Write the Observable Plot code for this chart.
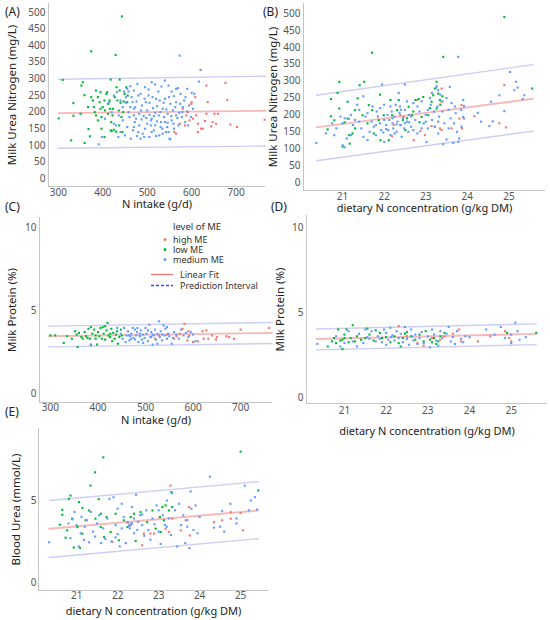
<!DOCTYPE html>
<html>
<head>
<meta charset="utf-8">
<script src="https://cdn.jsdelivr.net/npm/d3@7"></script>
<script src="https://cdn.jsdelivr.net/npm/@observablehq/plot@0.6"></script>
<style>
  html, body { margin: 0; padding: 0; background: #fff; }
  #wrap { position: relative; width: 550px; height: 620px; background: #fff; overflow: hidden; }
</style>
</head>
<body>
<div id="wrap"></div>
<script>
// ---------- categories / colours ----------
const groups = ["high ME", "low ME", "medium ME"];
const groupColors = ["#F8766D", "#00BA38", "#619CFF"];
const legendTitle = "level of ME";
const fitLabels = ["Linear Fit", "Prediction Interval"];
const panelLabels = ["(A)", "(B)", "(C)", "(D)", "(E)"];

// ---------- tick labels ----------
const ticksMUN = [0, 50, 100, 150, 200, 250, 300, 350, 400, 450, 500];
const ticksIntake = [300, 400, 500, 600, 700];
const ticksConc = [21, 22, 23, 24, 25];
const ticksProtein = [0, 5, 10];
const ticksUrea = [0, 5];

// ---------- Panel A: N intake vs MUN ----------
const aHigh = [[676,288],[680,237],[633,280],[636,230],[580,210],[603,180],[588,190],[573,165],[614,165],[621,150],[614,140],[651,195],[647,170],[644,157],[687,163],[702,155],[764,177],[561,140],[565,135],[591,200],[599,225],[630,173],[659,195],[633,195],[608,245],[585,160],[595,175],[610,190],[625,150],[655,165],[600,230]];
const aLow = [[443,488],[374,383],[429,372],[310,297],[438,298],[355,290],[301,181],[329,115],[359,107],[334,227],[334,189],[350,195],[359,251],[368,149],[371,127],[374,245],[378,235],[382,200],[385,265],[389,245],[393,230],[397,185],[400,215],[404,125],[408,255],[412,195],[415,235],[418,145],[419,170],[423,210],[427,245],[431,275],[433,235],[436,205],[438,265],[442,185],[444,140],[449,255],[453,275],[389,175],[397,150],[404,235],[418,298],[367,215],[352,280],[420,143],[425,147],[430,141],[412,225],[395,210],[440,228],[447,232],[456,250],[385,190],[405,205],[410,260],[416,210],[422,190],[437,160],[446,200],[455,230],[395,260],[380,215]];
const aMed = [[391,103],[573,370],[620,327],[616,292],[606,255],[569,272],[448,262],[455,270],[462,278],[470,265],[478,285],[485,255],[495,275],[503,268],[510,290],[518,283],[525,262],[532,277],[540,295],[548,280],[555,262],[565,270],[575,255],[590,270],[600,258],[440,235],[445,215],[452,228],[458,200],[465,245],[470,210],[476,232],[482,195],[488,220],[494,240],[500,205],[505,228],[512,245],[518,198],[522,218],[528,235],[535,210],[540,240],[546,195],[552,225],[558,205],[565,230],[572,198],[580,215],[590,202],[603,210],[560,248],[470,190],[505,192],[430,160],[435,125],[440,140],[445,175],[450,130],[455,155],[460,185],[463,120],[468,145],[472,170],[477,128],[482,160],[487,178],[490,135],[495,150],[500,165],[505,125],[510,180],[515,145],[518,160],[522,172],[527,130],[530,155],[534,150],[538,185],[542,140],[546,168],[550,120],[555,175],[560,150],[565,190],[570,160],[578,185],[585,170],[592,160],[475,180],[485,120],[515,188],[545,155],[398,125],[405,180],[420,200],[425,165],[415,230],[425,250],[432,260],[436,190],[552,118],[498,182],[530,200],[462,215],[583,235],[510,140],[540,170],[452,245],[458,262],[467,230],[473,215],[480,250],[486,205],[492,188],[497,230],[503,250],[508,175],[513,212],[520,240],[526,190],[531,170],[537,228],[543,208],[549,245],[554,188],[559,165],[563,215],[568,182],[574,225],[579,200],[586,245],[594,220],[598,185],[470,155],[480,140],[493,125],[508,160],[520,128],[535,135],[548,140]];
const aFit = [[300,197],[766,204]];
const aUpper = [[300,299],[766,308]];
const aLower = [[300,91],[766,98]];

// ---------- Panel B: dietary N concentration vs MUN ----------
const bHigh = [[24.89,288],[24.77,175],[24.93,163],[24.17,196],[23.86,229],[23.38,278],[23.14,167],[23.22,165],[23.34,160],[23.38,155],[23.62,160],[23.81,189],[23.87,160],[22.98,140],[22.87,152],[22.71,125],[22.79,244],[22.19,137],[22.23,170],[22.39,199],[22.47,194],[23.38,239]];
const bLow = [[24.89,490],[21.71,384],[20.92,298],[21.52,298],[21.41,288],[25.56,278],[23.42,372],[20.88,265],[20.72,247],[20.72,196],[20.64,157],[20.80,184],[20.92,219],[21.0,106],[21.12,189],[21.12,239],[21.16,140],[21.17,115],[21.24,145],[21.30,214],[21.36,249],[21.48,199],[21.60,175],[21.63,229],[21.71,214],[21.75,145],[21.87,184],[21.91,125],[21.99,199],[22.15,244],[22.19,199],[22.31,214],[22.35,244],[22.39,170],[22.51,155],[22.59,224],[22.67,199],[22.75,244],[22.83,247],[22.90,194],[22.94,253],[23.06,199],[23.14,239],[23.18,258],[23.22,278],[23.26,298],[23.30,263],[23.34,244],[23.26,219],[22.11,125],[21.05,178],[22.45,185],[22.7,210],[22.55,190],[23.1,220],[23.4,255],[21.3,160],[21.9,260],[22.85,178],[23.35,230]];
const bMed = [[20.37,117],[20.8,140],[20.85,160],[20.95,195],[21.0,175],[21.05,190],[21.1,130],[21.0,110],[21.05,104],[21.15,188],[21.2,140],[21.25,170],[21.3,185],[21.35,230],[21.4,215],[21.45,160],[21.5,255],[21.55,195],[21.6,125],[21.65,150],[21.7,180],[21.72,225],[21.75,165],[21.8,140],[21.82,210],[21.85,195],[21.9,175],[21.93,155],[21.95,290],[22.0,230],[22.0,120],[22.05,170],[22.08,200],[22.1,155],[22.12,185],[22.15,140],[22.18,210],[22.2,175],[22.22,160],[22.25,195],[22.28,230],[22.3,150],[22.32,180],[22.35,265],[22.37,205],[22.4,170],[22.42,135],[22.45,190],[22.48,160],[22.5,290],[22.5,215],[22.55,180],[22.58,150],[22.6,200],[22.65,165],[22.7,235],[22.75,185],[22.8,145],[22.85,210],[22.9,240],[22.95,175],[23.0,200],[23.02,120],[23.05,160],[23.1,250],[23.15,185],[23.2,210],[23.22,165],[23.25,280],[23.28,225],[23.3,145],[23.32,195],[23.35,260],[23.4,240],[23.42,113],[23.45,175],[23.5,127],[23.55,215],[23.58,283],[23.6,190],[23.66,117],[23.7,225],[23.75,150],[23.78,120],[23.78,372],[23.8,130],[23.86,165],[23.9,244],[23.92,189],[23.92,226],[23.9,194],[24.25,206],[24.33,180],[24.53,167],[24.57,239],[24.61,181],[24.77,258],[24.89,211],[25.03,327],[25.13,273],[25.17,298],[25.21,281],[25.33,247],[25.37,258],[23.3,273],[23.26,285],[22.3,172],[22.05,158],[22.6,178],[23.12,230],[21.2,200],[21.4,180],[21.6,205],[21.8,170],[21.9,220],[22.0,185],[22.15,225],[22.25,145],[22.4,215],[22.5,175],[22.55,240],[22.65,195],[22.7,155],[22.8,225],[22.9,160],[23.0,180],[23.05,215],[23.15,265],[23.3,180],[23.4,210],[23.5,250],[23.55,160],[23.62,235],[23.68,175],[23.72,205],[23.85,215],[22.38,225],[22.2,190],[21.98,148],[21.5,135],[20.6,145],[20.75,175]];
const bFit = [[20.37,163],[25.58,248]];
const bUpper = [[20.37,258],[25.58,349]];
const bLower = [[20.37,64],[25.58,152]];

// ---------- Panel C: N intake vs milk protein ----------
const cHigh = [[520,3.3],[528,3.5],[545,3.55],[560,3.3],[572,3.6],[578,3.9],[582,4.2],[588,3.2],[592,3.5],[600,3.1],[610,3.15],[620,3.75],[622,3.3],[628,3.8],[632,3.3],[640,3.5],[648,3.25],[650,3.4],[670,3.45],[676,3.4],[686,3.3],[700,3.85],[760,3.95],[590,3.75],[565,3.45]];
const cLow = [[300,3.5],[310,3.5],[328,3.05],[335,3.45],[345,3.3],[352,3.75],[357,2.8],[360,3.65],[365,3.4],[368,3.3],[372,3.7],[375,3.45],[380,3.9],[383,3.3],[385,4.0],[388,3.6],[392,3.85],[395,3.3],[398,2.95],[400,3.7],[403,3.45],[405,3.95],[408,3.3],[410,4.0],[412,3.6],[415,3.25],[418,3.8],[420,4.25],[422,3.5],[425,3.4],[428,3.9],[430,3.15],[432,3.65],[435,3.3],[438,3.55],[440,3.75],[442,3.0],[445,3.4],[448,3.85],[450,3.5],[385,2.95],[395,3.5],[415,4.05],[355,3.55],[378,3.35],[426,3.6]];
const cMed = [[385,2.9],[440,3.95],[448,3.6],[452,3.3],[455,3.95],[458,3.1],[460,3.5],[463,3.75],[466,3.2],[470,3.6],[473,3.95],[475,3.35],[478,3.85],[480,3.5],[482,3.7],[485,3.1],[488,3.45],[490,3.8],[492,3.25],[495,3.55],[498,3.35],[500,3.95],[502,3.6],[505,3.15],[508,4.15],[510,3.4],[512,3.7],[515,2.95],[518,3.5],[520,3.85],[522,3.25],[525,3.6],[528,4.35],[530,3.4],[532,3.75],[535,3.2],[538,4.1],[540,3.5],[542,3.9],[545,3.3],[548,3.6],[550,3.45],[555,3.0],[560,3.7],[565,3.55],[570,3.3],[575,3.85],[580,3.5],[585,3.65],[590,3.4],[595,3.7],[600,3.55],[605,3.15],[478,3.25],[468,3.45],[505,3.8],[515,3.55],[525,3.0],[495,3.05],[483,3.95],[465,3.5],[535,3.55],[545,4.0],[558,3.35],[470,3.3],[512,3.4],[488,3.6]];
const cFit = [[296,3.45],[766,3.65]];
const cUpper = [[296,4.06],[766,4.28]];
const cLower = [[296,2.81],[766,3.01]];

// ---------- Panel D: dietary N concentration vs milk protein ----------
const dHigh = [[22.3,4.2],[22.5,3.6],[22.75,3.2],[22.9,3.05],[23.1,3.5],[23.3,3.4],[23.4,3.6],[23.75,4.0],[23.8,3.3],[24.2,3.3],[24.5,3.6],[24.85,3.9],[24.95,3.5],[25.0,3.3],[23.6,3.75]];
const dLow = [[20.6,3.0],[20.7,3.3],[20.75,3.5],[20.8,3.2],[20.85,4.0],[20.9,3.35],[20.95,2.85],[21.0,3.5],[21.05,4.0],[21.1,3.25],[21.15,3.5],[21.2,4.25],[21.3,3.6],[21.4,3.4],[21.5,3.5],[21.55,4.05],[21.6,3.7],[21.7,3.35],[21.75,3.95],[21.85,3.8],[21.9,3.5],[22.0,3.55],[22.1,3.25],[22.2,3.6],[22.3,3.2],[22.35,3.0],[22.4,3.5],[22.5,3.85],[22.6,3.6],[22.7,3.4],[22.8,3.7],[22.9,3.3],[22.95,3.9],[23.05,3.4],[23.1,3.25],[23.15,3.5],[23.2,3.15],[23.25,3.3],[23.3,3.6],[23.4,3.8],[24.9,3.8],[25.6,3.8],[21.0,3.7],[22.45,3.75],[20.95,3.4],[21.25,3.3]];
const dMed = [[20.35,3.15],[20.8,3.6],[20.9,3.0],[21.0,3.2],[21.1,3.9],[21.2,3.3],[21.3,3.0],[21.35,3.75],[21.45,3.2],[21.5,4.0],[21.6,3.45],[21.65,3.9],[21.75,3.3],[21.8,3.6],[21.9,3.25],[21.95,4.0],[22.0,3.8],[22.05,3.4],[22.1,4.1],[22.15,3.65],[22.2,3.35],[22.25,3.9],[22.3,3.5],[22.35,3.75],[22.4,3.25],[22.45,4.15],[22.5,3.45],[22.55,3.1],[22.6,4.0],[22.65,3.35],[22.7,3.7],[22.75,3.15],[22.8,3.5],[22.85,3.85],[22.9,3.2],[23.0,3.6],[23.05,2.95],[23.1,4.0],[23.15,3.7],[23.2,3.35],[23.25,3.05],[23.3,3.9],[23.35,3.5],[23.45,3.75],[23.5,4.15],[23.55,3.3],[23.6,3.55],[23.65,3.15],[23.7,3.9],[23.8,3.45],[23.85,3.25],[23.9,3.6],[24.0,3.55],[24.4,4.0],[24.6,3.7],[24.75,4.15],[24.85,3.5],[25.0,3.7],[25.1,4.4],[25.15,3.9],[25.2,3.4],[25.35,3.55],[25.0,3.2],[22.0,3.1],[21.55,3.55],[22.12,3.55],[22.62,3.6],[21.85,3.45]];
const dFit = [[20.33,3.44],[25.6,3.74]];
const dUpper = [[20.33,4.03],[25.6,4.33]];
const dLower = [[20.33,2.80],[25.6,3.11]];

// ---------- Panel E: dietary N concentration vs blood urea ----------
const eHigh = [[23.29,5.91],[23.74,4.60],[23.66,3.79],[23.76,2.87],[22.64,2.98],[22.6,2.27],[22.8,2.98],[22.89,2.98],[23.17,3.28],[23.25,3.08],[23.54,3.18],[22.24,3.68],[22.28,3.48],[22.33,3.58],[21.87,2.47],[24.55,3.79],[24.76,3.89],[24.76,4.29],[25.0,4.23],[25.06,3.18],[24.35,3.68],[23.33,3.89]];
const eLow = [[21.65,7.63],[21.45,6.72],[21.34,5.91],[25.0,7.98],[25.43,5.61],[20.85,5.30],[20.81,5.10],[20.65,4.43],[20.65,4.13],[20.59,3.52],[20.73,2.73],[20.93,2.13],[21.08,2.11],[21.06,4.90],[21.14,4.55],[20.89,3.89],[21.02,3.38],[21.14,2.98],[21.22,3.79],[21.30,4.39],[21.46,3.89],[21.54,5.08],[21.59,3.38],[21.67,2.77],[21.73,3.99],[21.83,3.08],[21.95,4.19],[22.03,2.57],[22.15,3.79],[22.24,3.38],[22.32,3.99],[22.40,4.19],[22.44,2.53],[22.56,4.29],[22.72,3.68],[22.85,4.39],[22.93,3.28],[23.03,3.99],[23.09,4.6],[23.13,3.79],[23.17,4.70],[23.31,5.51],[23.33,4.6],[23.05,3.08],[23.25,4.39],[21.59,4.19],[20.77,3.18]];
const eMed = [[20.33,2.45],[20.8,3.6],[20.85,2.7],[20.9,3.85],[20.95,4.3],[21.0,3.5],[21.05,2.2],[21.1,3.0],[21.12,4.0],[21.18,2.6],[21.2,3.4],[21.25,3.8],[21.3,2.45],[21.35,4.3],[21.4,3.1],[21.45,2.8],[21.5,3.6],[21.55,4.1],[21.6,2.4],[21.65,3.3],[21.7,2.65],[21.75,3.9],[21.8,5.1],[21.85,2.5],[21.9,5.2],[21.95,3.5],[22.0,2.95],[22.0,4.5],[22.05,2.2],[22.1,3.3],[22.15,4.0],[22.2,2.4],[22.25,3.65],[22.3,3.3],[22.32,3.5],[22.35,4.6],[22.4,3.9],[22.45,5.35],[22.48,3.2],[22.5,3.7],[22.55,4.1],[22.6,3.5],[22.65,2.85],[22.7,4.4],[22.75,3.2],[22.8,2.6],[22.85,3.9],[22.9,3.55],[22.95,4.7],[23.0,4.4],[23.05,2.35],[23.1,4.1],[23.15,3.5],[23.2,5.0],[23.25,3.9],[23.3,2.9],[23.33,5.45],[23.4,4.4],[23.45,2.2],[23.5,4.8],[23.55,3.5],[23.6,4.1],[23.65,2.4],[23.7,3.8],[23.75,2.1],[23.78,5.55],[23.8,4.5],[23.85,3.2],[23.9,4.7],[23.95,3.0],[24.0,4.0],[24.25,6.45],[24.35,3.35],[24.55,4.35],[24.6,3.1],[24.75,4.8],[24.9,3.9],[24.9,3.6],[25.1,5.9],[25.2,4.4],[25.25,5.0],[25.35,5.2],[25.4,4.45],[24.5,3.4],[22.1,4.8],[23.2,3.4],[22.4,3.0],[21.95,2.75],[23.0,3.1],[23.7,3.4],[22.6,4.15],[22.35,3.6],[22.28,3.45]];
const eFit = [[20.33,3.28],[25.43,4.39]];
const eUpper = [[20.33,5.0],[25.43,6.15]];
const eLower = [[20.33,1.52],[25.43,2.67]];

// ---------- titles ----------
const titleMUN = "Milk Urea Nitrogen (mg/L)";
const titleProtein = "Milk Protein (%)";
const titleUrea = "Blood Urea (mmol/L)";
const titleIntake = "N intake (g/d)";
const titleConc = "dietary N concentration (g/kg DM)";

// ---------- drawing ----------
const FONT = "Noto Sans, DejaVu Sans, sans-serif";
const wrap = document.getElementById("wrap");
const fitColor = "#f7b9b9";
const predColor = "#cdcdf6";
const axisColor = "#c4c4c4";

function panel(o) {
  const marks = [
    Plot.ruleX([o.xDomain[0]], {stroke: axisColor, strokeWidth: 1}),
    Plot.ruleY([o.yDomain[0]], {stroke: axisColor, strokeWidth: 1}),
    Plot.line(o.upper, {x: (p) => p[0], y: (p) => p[1], stroke: predColor, strokeWidth: 1.4}),
    Plot.line(o.lower, {x: (p) => p[0], y: (p) => p[1], stroke: predColor, strokeWidth: 1.4}),
    Plot.line(o.fit, {x: (p) => p[0], y: (p) => p[1], stroke: fitColor, strokeWidth: 1.9}),
    ...o.sets.map((s, i) => Plot.dot(s, {x: (p) => p[0], y: (p) => p[1], r: 1.2, symbol: "square", fill: groupColors[i], stroke: "none"})),
    Plot.axisX(o.xTicks, {tickSize: 0, tickPadding: o.xPad ?? 3, fill: "#555", fontSize: 10, label: null}),
    Plot.axisY(o.yTicks, {tickSize: 0, tickPadding: o.yPad ?? 3, fill: "#555", fontSize: 10, label: null}),
    Plot.text([o.yTitle], {text: (d) => d, frameAnchor: "left", dx: o.yTitleDx, rotate: -90,
      textAnchor: "middle", lineAnchor: "middle", fontSize: 11.5, fill: "#222"}),
    Plot.text([o.xTitle], {text: (d) => d, frameAnchor: "bottom", dy: o.xTitleDy,
      textAnchor: "middle", lineAnchor: "middle", fontSize: 11, fill: "#222"})
  ];
  const svg = Plot.plot({
    width: o.width, height: o.height,
    marginLeft: o.m[3], marginRight: o.m[1], marginTop: o.m[0], marginBottom: o.m[2],
    x: {domain: o.xDomain},
    y: {domain: o.yDomain},
    style: {fontFamily: FONT, background: "transparent", overflow: "visible"},
    marks
  });
  svg.style.position = "absolute";
  svg.style.left = o.left + "px";
  svg.style.top = o.top + "px";
  svg.style.maxWidth = "none";
  wrap.appendChild(svg);
}

panel({left: 0, top: 0, width: 270, height: 210, m: [3, 5, 24, 48],
  xDomain: [278, 766], yDomain: [-24, 527], xTicks: ticksIntake, yTicks: ticksMUN,
  sets: [aHigh, aLow, aMed], fit: aFit, upper: aUpper, lower: aLower,
  yTitle: titleMUN, yTitleDx: -36, xTitle: titleIntake, xTitleDy: 18, xPad: 2});

panel({left: 270, top: 0, width: 280, height: 210, m: [3, 5, 20, 33],
  xDomain: [20.06, 25.88], yDomain: [-24, 530], xTicks: ticksConc, yTicks: ticksMUN,
  sets: [bHigh, bLow, bMed], fit: bFit, upper: bUpper, lower: bLower,
  yTitle: titleMUN, yTitleDx: -30, xTitle: titleConc, xTitleDy: 18, xPad: 2});

panel({left: 0, top: 210, width: 275, height: 210, m: [7, 3, 18, 39],
  xDomain: [277, 767], yDomain: [-0.54, 10.6], xTicks: ticksIntake, yTicks: ticksProtein,
  sets: [cHigh, cLow, cMed], fit: cFit, upper: cUpper, lower: cLower,
  yTitle: titleProtein, yTitleDx: -27, xTitle: titleIntake, xTitleDy: 18, xPad: 1});

panel({left: 270, top: 210, width: 280, height: 210, m: [5, 3, 17, 36],
  xDomain: [20.09, 25.87], yDomain: [-0.35, 10.7], xTicks: ticksConc, yTicks: ticksProtein,
  sets: [dHigh, dLow, dMed], fit: dFit, upper: dUpper, lower: dLower,
  yTitle: titleProtein, yTitleDx: -26, xTitle: titleConc, xTitleDy: 28});

panel({left: 0, top: 420, width: 275, height: 200, m: [8, 7, 30, 38],
  xDomain: [20.07, 25.68], yDomain: [-0.49, 9.39], xTicks: ticksConc, yTicks: ticksUrea,
  sets: [eHigh, eLow, eMed], fit: eFit, upper: eUpper, lower: eLower,
  yTitle: titleUrea, yTitleDx: -22, xTitle: titleConc, xTitleDy: 21, xPad: 1, yPad: 2});

// ---------- overlay: panel letters and legend ----------
const ov = d3.select(wrap).append("svg")
  .attr("width", 550).attr("height", 620)
  .style("position", "absolute").style("left", "0px").style("top", "0px")
  .style("font-family", FONT);

const letterPos = [[5, 16], [263, 16], [5, 211], [271, 211], [5, 416]];
panelLabels.forEach((t, i) => {
  ov.append("text").attr("x", letterPos[i][0]).attr("y", letterPos[i][1])
    .attr("font-size", 12).attr("fill", "#222").text(t);
});

const lg = ov.append("g").attr("font-size", 9).attr("fill", "#333");
lg.append("text").attr("x", 173).attr("y", 229.5).attr("font-size", 9.5).text(legendTitle);
groups.forEach((g, i) => {
  const y = 239.5 + i * 10;
  lg.append("circle").attr("cx", 165).attr("cy", y).attr("r", 1.5).attr("fill", groupColors[i]);
  lg.append("text").attr("x", 173).attr("y", y + 3.2).text(g);
});
lg.append("line").attr("x1", 151).attr("x2", 173).attr("y1", 274.5).attr("y2", 274.5)
  .attr("stroke", "#f07a7a").attr("stroke-width", 1.4);
lg.append("text").attr("x", 180).attr("y", 277.7).text(fitLabels[0]);
lg.append("line").attr("x1", 151).attr("x2", 173).attr("y1", 285.5).attr("y2", 285.5)
  .attr("stroke", "#3f3fff").attr("stroke-width", 1.4).attr("stroke-dasharray", "3,2");
lg.append("text").attr("x", 180).attr("y", 288.7).text(fitLabels[1]);
</script>
</body>
</html>
